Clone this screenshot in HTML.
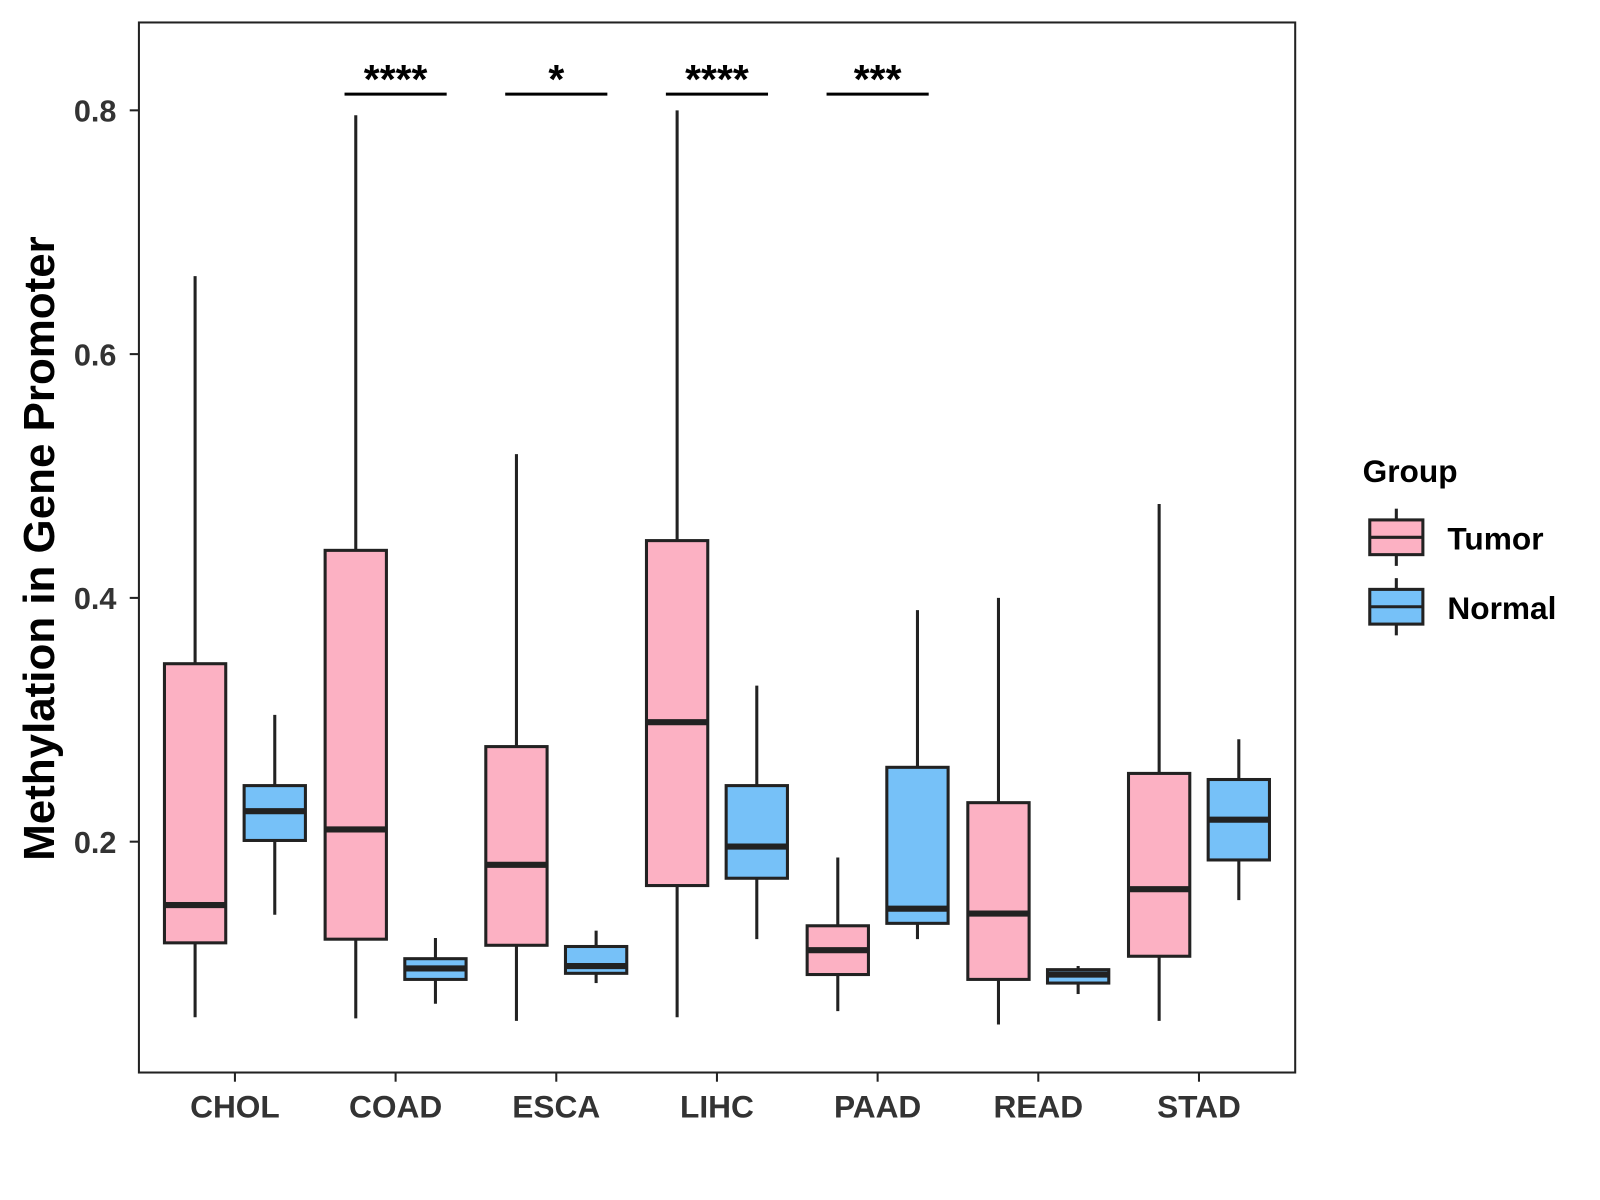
<!DOCTYPE html>
<html><head><meta charset="utf-8"><style>
html,body{margin:0;padding:0;background:#fff}
svg{display:block;font-family:"Liberation Sans",Arial,sans-serif}
</style></head><body>
<svg id="chart" width="1600" height="1200" viewBox="0 0 1566.4 1174.8">
<rect x="136" y="22" width="1132" height="1028" fill="#fff" stroke="#222" stroke-width="2"/>
<g id="boxes"></g>
<g id="axes"></g>
<text transform="translate(53,537) rotate(-90)" text-anchor="middle" font-size="43" font-weight="bold" fill="#000">Methylation in Gene Promoter</text>
<g>
<text x="1334" y="472" font-size="31" font-weight="bold" fill="#000">Group</text>
<g>
<line x1="1367" y1="498" x2="1367" y2="554" stroke="#222" stroke-width="3"/>
<rect x="1341" y="509" width="52" height="34" fill="#FCB1C3" stroke="#222" stroke-width="3"/>
<line x1="1341" y1="526" x2="1393" y2="526" stroke="#222" stroke-width="3"/>
<text x="1417" y="538" font-size="31" font-weight="bold" fill="#000">Tumor</text></g>
<g>
<line x1="1367" y1="566" x2="1367" y2="622" stroke="#222" stroke-width="3"/>
<rect x="1341" y="577" width="52" height="34" fill="#76C1F8" stroke="#222" stroke-width="3"/>
<line x1="1341" y1="594" x2="1393" y2="594" stroke="#222" stroke-width="3"/>
<text x="1417" y="606" font-size="31" font-weight="bold" fill="#000">Normal</text></g>
</g>
</svg>
<script>
const categories=["CHOL","COAD","ESCA","LIHC","PAAD","READ","STAD"];
// [low, q1, median, q3, high]
const tumorStats=[[0.056,0.117,0.148,0.346,0.664],[0.055,0.120,0.210,0.439,0.796],[0.053,0.115,0.181,0.278,0.518],[0.056,0.164,0.298,0.447,0.800],[0.061,0.091,0.111,0.131,0.187],[0.050,0.087,0.141,0.232,0.400],[0.053,0.106,0.161,0.256,0.477]];
const normalStats=[[0.140,0.201,0.225,0.246,0.304],[0.067,0.087,0.096,0.104,0.121],[0.084,0.092,0.098,0.114,0.127],[0.120,0.170,0.196,0.246,0.328],[0.120,0.133,0.145,0.261,0.390],[0.075,0.084,0.091,0.095,0.098],[0.152,0.185,0.218,0.251,0.284]];
const yTicks=[0.2,0.4,0.6,0.8];
const sigLabels=["","****","*","****","***","",""];
const sigY=0.815;
const NS="http://www.w3.org/2000/svg";
function yS(v){return 824-(v-0.2)*1193.3;}
function xS(i){return 230+i*157.3;}
function mk(tag,attrs,parent){const e=document.createElementNS(NS,tag);for(const k in attrs)e.setAttribute(k,attrs[k]);parent.appendChild(e);return e;}
const boxes=document.getElementById('boxes'),axes=document.getElementById('axes');
function drawBox(s,cx,fill,name){
  const g=mk('g',{},boxes);
  
  
  mk('line',{x1:cx,x2:cx,y1:yS(s[4]),y2:yS(s[0]),stroke:'#222','stroke-width':3},g);
  mk('rect',{x:cx-30,y:yS(s[3]),width:60,height:yS(s[1])-yS(s[3]),fill:fill,stroke:'#222','stroke-width':3},g);
  mk('line',{x1:cx-30,x2:cx+30,y1:yS(s[2]),y2:yS(s[2]),stroke:'#222','stroke-width':6},g);
}
categories.forEach((c,i)=>{
  drawBox(tumorStats[i],xS(i)-39,'#FCB1C3','box-tumor-'+c.toLowerCase());
  drawBox(normalStats[i],xS(i)+39,'#76C1F8','box-normal-'+c.toLowerCase());
  mk('line',{x1:xS(i),x2:xS(i),y1:1050,y2:1059,stroke:'#222','stroke-width':2},axes);
  const t=mk('text',{x:xS(i),y:1094,'text-anchor':'middle','font-size':31,'font-weight':'bold',fill:'#333'},axes);
  
  
  t.textContent=c;
  if(sigLabels[i]){
    const sl=mk('line',{x1:xS(i)-50,x2:xS(i)+50,y1:yS(sigY)+2,y2:yS(sigY)+2,stroke:'#000','stroke-width':3},axes);
    
    
    const st=mk('text',{x:xS(i),y:yS(sigY)+1,'text-anchor':'middle','font-size':40,'font-weight':'bold',fill:'#000'},axes);
    
    
    st.textContent=sigLabels[i];
  }
});
yTicks.forEach(v=>{
  mk('line',{x1:127,x2:136,y1:yS(v),y2:yS(v),stroke:'#222','stroke-width':2},axes);
  const t=mk('text',{x:114,y:yS(v)+11,'text-anchor':'end','font-size':30,'font-weight':'bold',fill:'#333'},axes);
  
  
  t.textContent=v.toFixed(1);
});
</script>
</body></html>
